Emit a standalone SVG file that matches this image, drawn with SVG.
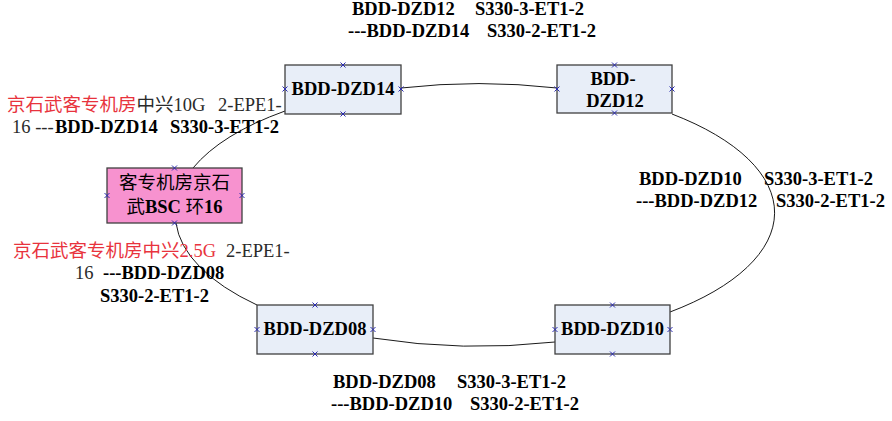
<svg xmlns="http://www.w3.org/2000/svg" xmlns:xlink="http://www.w3.org/1999/xlink" width="892" height="421" viewBox="0 0 892 421">
<style>
text{font-family:"Liberation Serif","Noto Sans CJK SC",serif;font-size:18.5px;fill:#000}
.b{font-weight:bold}
.r{fill:#e8333d}
.g{fill:#2a2a2a}
.box{fill:#e8eef8;stroke:#404040;stroke-width:1.3}
.pink{fill:#f792cf;stroke:#404040;stroke-width:1.3}
.conn{fill:none;stroke:#1a1a1a;stroke-width:1}
.lbl{text-anchor:middle;font-weight:bold}
</style>
<defs>
<path id="cp" d="M-2.5,-2.5L2.5,2.5M-2.5,2.5L2.5,-2.5" stroke="#2b2bb0" stroke-width="1" fill="none"/>
</defs>
<rect width="892" height="421" fill="#fff"/>
<g id="connectors">
<path class="conn" d="M401,88 A306,132 0 0,1 557,88"/>
<path class="conn" d="M672,114 A306,132 0 0,1 670,312"/>
<path class="conn" d="M555,342 A306,132 0 0,1 373,338"/>
<path class="conn" d="M257,305 A306,132 0 0,1 176,223"/>
<path class="conn" d="M193,168 A306,132 0 0,1 285,111"/>
</g>
<g id="node-dzd14">
<rect class="box" x="285" y="65" width="116" height="49"/>
<text class="lbl" x="343" y="95">BDD-DZD14</text>
<use xlink:href="#cp" x="343" y="65"/><use xlink:href="#cp" x="343" y="114"/><use xlink:href="#cp" x="285" y="89"/><use xlink:href="#cp" x="401" y="89"/>
</g>
<g id="node-dzd12">
<rect class="box" x="557" y="65" width="115" height="48"/>
<text class="lbl" x="613" y="85">BDD-</text>
<text class="lbl" x="615" y="107">DZD12</text>
<use xlink:href="#cp" x="614.5" y="65"/><use xlink:href="#cp" x="614.5" y="113"/><use xlink:href="#cp" x="557" y="89"/><use xlink:href="#cp" x="672" y="89"/>
</g>
<g id="node-dzd08">
<rect class="box" x="257" y="305" width="116" height="49"/>
<text class="lbl" x="315" y="335">BDD-DZD08</text>
<use xlink:href="#cp" x="315" y="305"/><use xlink:href="#cp" x="315" y="354"/><use xlink:href="#cp" x="257" y="329.5"/><use xlink:href="#cp" x="373" y="329.5"/>
</g>
<g id="node-dzd10">
<rect class="box" x="555" y="305" width="115" height="49"/>
<text class="lbl" x="612.5" y="335">BDD-DZD10</text>
<use xlink:href="#cp" x="612.5" y="305"/><use xlink:href="#cp" x="612.5" y="354"/><use xlink:href="#cp" x="555" y="329.5"/><use xlink:href="#cp" x="670" y="329.5"/>
</g>
<g id="node-bsc">
<rect class="pink" x="107" y="168" width="135" height="55"/>
<text x="174.5" y="189" text-anchor="middle">客专机房京石</text>
<text x="174.5" y="213" text-anchor="middle">武<tspan class="b">BSC</tspan> 环<tspan class="b">16</tspan></text>
<use xlink:href="#cp" x="174.5" y="168"/><use xlink:href="#cp" x="174.5" y="223"/><use xlink:href="#cp" x="107" y="195.5"/><use xlink:href="#cp" x="242" y="195.5"/>
</g>
<g id="labels">
<text class="b" y="15"><tspan x="352">BDD-DZD12</tspan><tspan x="475">S330-3-ET1-2</tspan></text>
<text class="b" y="37"><tspan x="348">---BDD-DZD14</tspan><tspan x="487">S330-2-ET1-2</tspan></text>
<text class="b" y="185"><tspan x="639">BDD-DZD10</tspan><tspan x="764">S330-3-ET1-2</tspan></text>
<text class="b" y="207"><tspan x="636">---BDD-DZD12</tspan><tspan x="776">S330-2-ET1-2</tspan></text>
<text class="b" y="388"><tspan x="333">BDD-DZD08</tspan><tspan x="457">S330-3-ET1-2</tspan></text>
<text class="b" y="410"><tspan x="331">---BDD-DZD10</tspan><tspan x="470">S330-2-ET1-2</tspan></text>
<text y="111"><tspan x="7" class="r">京石武客专机房</tspan><tspan class="g">中兴10G</tspan><tspan x="218" class="g">2-EPE1-</tspan></text>
<text y="133"><tspan x="12" class="g">16 ---</tspan><tspan x="55" class="b">BDD-DZD14</tspan><tspan x="170" class="b">S330-3-ET1-2</tspan></text>
<text y="257"><tspan x="13" class="r">京石武客专机房中兴2.5G</tspan><tspan x="226" class="g">2-EPE1-</tspan></text>
<text y="279"><tspan x="75" class="g">16</tspan><tspan x="103" class="b">---BDD-DZD08</tspan></text>
<text y="302"><tspan x="100" class="b">S330-2-ET1-2</tspan></text>
</g>
</svg>
